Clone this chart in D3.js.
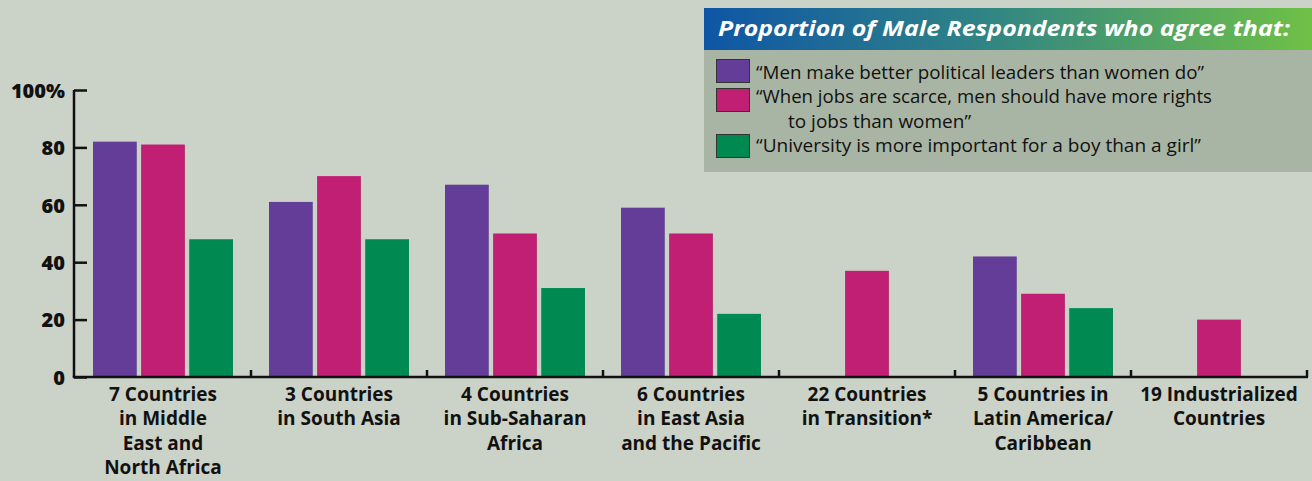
<!DOCTYPE html>
<html>
<head>
<meta charset="utf-8">
<script src="https://cdn.jsdelivr.net/npm/d3@7"></script>
<style>
  html, body { margin: 0; padding: 0; background: #cbd2c7; }
  svg { display: block; }
  text { font-family: "Open Sans", Lato, sans-serif; }
</style>
</head>
<body>
<svg id="chart" width="1312" height="481"></svg>
<script>
// ---- data ----
const categories = [
  ["7 Countries", "in Middle", "East and", "North Africa"],
  ["3 Countries", "in South Asia"],
  ["4 Countries", "in Sub-Saharan", "Africa"],
  ["6 Countries", "in East Asia", "and the Pacific"],
  ["22 Countries", "in Transition*"],
  ["5 Countries in", "Latin America/", "Caribbean"],
  ["19 Industrialized", "Countries"]
];
const seriesNames = ["leaders", "jobs", "university"];
const leadersValues    = [82, 61, 67, 59, null, 42, null];
const jobsValues       = [81, 70, 50, 50, 37, 29, 20];
const universityValues = [48, 48, 31, 22, null, 24, null];
const seriesColors = ["#633d97", "#c11f73", "#008a52"];
const legendLabels = [
  ["\u201CMen make better political leaders than women do\u201D"],
  ["\u201CWhen jobs are scarce, men should have more rights", "to jobs than women\u201D"],
  ["\u201CUniversity is more important for a boy than a girl\u201D"]
];
const yTicks = [0, 20, 40, 60, 80, 100];
const yTickLabels = ["0", "20", "40", "60", "80", "100%"];
const legendTitle = "Proportion of Male Respondents who agree that:";

// ---- layout ----
const svg = d3.select("#chart");
const x0 = 75, x1 = 1307, yBase = 377, yTop = 90;
const y = d3.scaleLinear().domain([0, 100]).range([yBase, yTop]);
const catIdx = d3.range(categories.length);
const x = d3.scaleBand().domain(catIdx).range([x0, x1]).padding(0);
const xs = d3.scaleBand().domain(seriesNames).range([18, x.bandwidth() - 18]).paddingInner(0.09);

const allValues = [leadersValues, jobsValues, universityValues];

// bars
seriesNames.forEach((s, si) => {
  const data = catIdx.map(i => ({i, v: allValues[si][i]})).filter(d => d.v != null);
  svg.append("g").selectAll("rect").data(data).join("rect")
    .attr("x", d => x(d.i) + xs(s))
    .attr("width", xs.bandwidth())
    .attr("y", d => y(d.v))
    .attr("height", d => y(0) - y(d.v))
    .attr("fill", seriesColors[si]);
});

// y axis (ticks point inward)
const yAxis = svg.append("g").attr("transform", `translate(${x0 - 1},0)`)
  .call(d3.axisLeft(y).tickValues(yTicks).tickSize(-13).tickSizeOuter(0)
    .tickFormat((d, i) => yTickLabels[i]).tickPadding(22));
yAxis.select(".domain").attr("stroke", "#111").attr("stroke-width", 2.5)
  .attr("d", `M0,${yTop}V${yBase}`);
yAxis.selectAll(".tick line").attr("stroke", "#111").attr("stroke-width", 2.5);
yAxis.selectAll(".tick text").attr("fill", "#111").attr("font-size", 20).attr("font-weight", 800)
  .attr("font-family", "'Open Sans', sans-serif").attr("x", -9).attr("dy", "0.36em");

// x axis baseline + category ticks
const boundaries = catIdx.map(i => x(i) + x.bandwidth());
const xAxisG = svg.append("g");
xAxisG.append("line").attr("x1", x0 - 2.25).attr("x2", x1 + 1).attr("y1", yBase).attr("y2", yBase)
  .attr("stroke", "#111").attr("stroke-width", 2.5);
xAxisG.selectAll("line.tk").data(boundaries).join("line").attr("class", "tk")
  .attr("x1", d => d).attr("x2", d => d).attr("y1", yBase).attr("y2", yBase - 7)
  .attr("stroke", "#111").attr("stroke-width", 2.5);

// category labels
const lab = svg.append("g");
categories.forEach((lines, i) => {
  const t = lab.append("text").attr("text-anchor", "middle")
    .attr("font-size", 19).attr("font-weight", 700).attr("fill", "#111");
  lines.forEach((ln, k) => {
    t.append("tspan").attr("x", x(i) + x.bandwidth() / 2).attr("y", 401 + k * 24.3).text(ln);
  });
});

// legend
const defs = svg.append("defs");
const grad = defs.append("linearGradient").attr("id", "hdr").attr("x1", "0%").attr("x2", "100%");
grad.append("stop").attr("offset", "0%").attr("stop-color", "#0f55a6");
grad.append("stop").attr("offset", "45%").attr("stop-color", "#2f8386");
grad.append("stop").attr("offset", "100%").attr("stop-color", "#70c046");

const lg = svg.append("g");
lg.append("rect").attr("x", 704).attr("y", 50).attr("width", 608).attr("height", 122).attr("fill", "#a9b5a4");
lg.append("rect").attr("x", 704).attr("y", 8).attr("width", 608).attr("height", 42).attr("fill", "url(#hdr)");
lg.append("text").attr("x", 718).attr("y", 36).attr("fill", "#fff").attr("font-size", 21)
  .attr("font-weight", 700).attr("font-style", "italic")
  .attr("textLength", 572).attr("lengthAdjust", "spacingAndGlyphs").text(legendTitle);

const swatchY = [59, 88, 134];
const textY = [[79], [103, 128], [152]];
const textX = [[756], [756, 788], [756]];
const textW = [[448], [456, 183], [445]];
legendLabels.forEach((lines, si) => {
  lg.append("rect").attr("x", 716.5).attr("y", swatchY[si] + 0.5).attr("width", 33).attr("height", 23)
    .attr("fill", seriesColors[si]).attr("stroke", "#333").attr("stroke-width", 1);
  lines.forEach((ln, k) => {
    lg.append("text").attr("x", textX[si][k]).attr("y", textY[si][k])
      .attr("font-size", 18).attr("fill", "#111")
      .attr("textLength", textW[si][k]).attr("lengthAdjust", "spacingAndGlyphs").text(ln);
  });
});
</script>
</body>
</html>
